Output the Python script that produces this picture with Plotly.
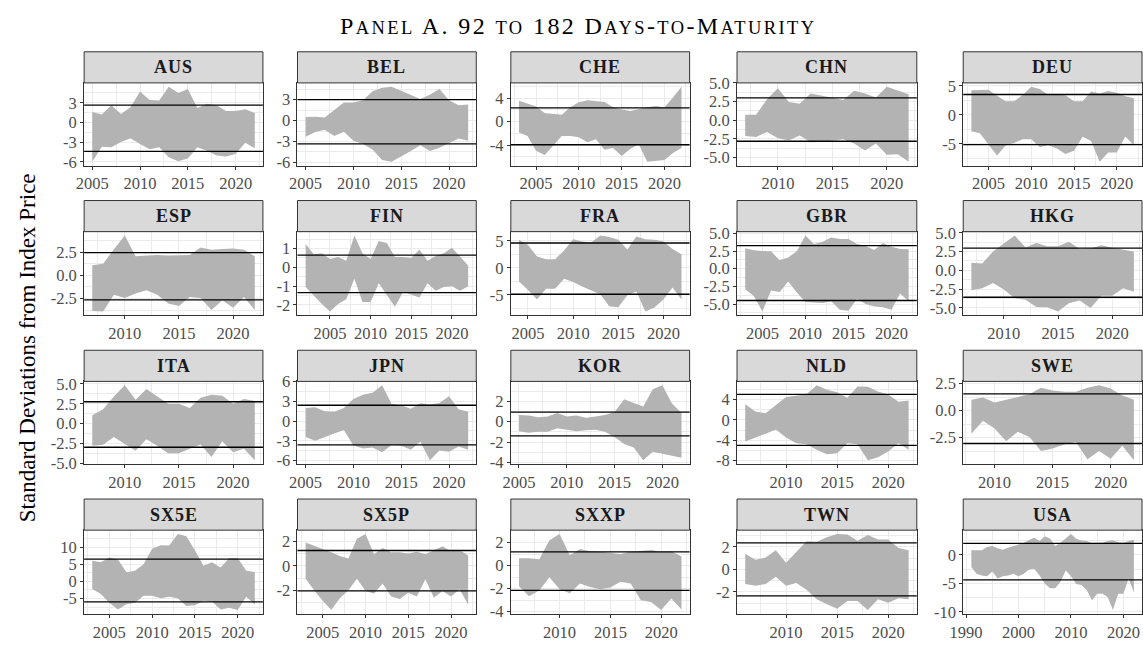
import plotly.graph_objects as go

# ---------------------------------------------------------------------------
# Data: yearly bands (upper / lower, in standard deviations) per index,
# plus the two reference levels drawn as horizontal lines.
# ---------------------------------------------------------------------------
PANELS = ["AUS", "BEL", "CHE", "CHN", "DEU",
          "ESP", "FIN", "FRA", "GBR", "HKG",
          "ITA", "JPN", "KOR", "NLD", "SWE",
          "SX5E", "SX5P", "SXXP", "TWN", "USA"]

AUS_START = 2005
AUS_UPPER = [1.6, 1.2, 2.6, 1.3, 2.3, 4.7, 3.4, 3.35, 5.45, 4.5, 5.1, 2.2, 2.85, 2.6, 1.75, 1.75, 2.0, 1.45]
AUS_LOWER = [-6.0, -3.7, -3.8, -3.0, -2.4, -3.3, -4.1, -3.8, -5.3, -5.9, -5.5, -3.8, -4.3, -5.05, -5.2, -4.8, -3.1, -3.95]
AUS_LEVELS = [2.65, -4.4]

BEL_START = 2005
BEL_UPPER = [0.5, 0.55, 0.45, 1.55, 2.6, 2.6, 2.9, 4.2, 4.7, 4.85, 4.3, 3.7, 3.1, 3.7, 4.5, 2.9, 2.2, 2.3]
BEL_LOWER = [-2.3, -1.65, -1.3, -2.2, -1.6, -2.9, -3.35, -4.15, -5.65, -5.9, -5.1, -4.35, -3.55, -4.35, -3.9, -3.2, -2.55, -2.9]
BEL_LEVELS = [3.0, -3.35]

CHE_START = 2003
CHE_UPPER = [3.55, 3.0, 2.55, 1.45, 1.35, 1.15, 2.45, 3.3, 3.65, 3.5, 3.35, 2.45, 2.05, 1.8, 2.15, 2.45, 2.65, 2.4, 4.1, 5.95]
CHE_LOWER = [-1.85, -2.45, -4.95, -5.7, -4.1, -2.45, -2.45, -2.65, -3.5, -3.0, -4.8, -4.5, -5.85, -4.65, -3.85, -6.85, -6.7, -6.55, -5.35, -4.5]
CHE_LEVELS = [2.35, -3.95]

CHN_START = 2007
CHN_UPPER = [0.75, 0.75, 2.8, 4.3, 2.45, 2.2, 3.6, 3.35, 3.0, 2.7, 3.95, 3.6, 3.05, 4.5, 4.0, 3.5]
CHN_LOWER = [-2.1, -2.25, -1.55, -2.4, -2.7, -2.05, -2.95, -2.9, -2.75, -2.55, -3.1, -4.05, -3.1, -4.6, -4.55, -5.55]
CHN_LEVELS = [3.0, -2.8]

DEU_START = 2003
DEU_UPPER = [4.25, 4.25, 4.3, 3.3, 2.35, 2.35, 3.4, 4.85, 4.45, 3.4, 3.45, 3.35, 2.35, 2.35, 4.0, 3.65, 4.1, 3.8, 3.2, 2.85]
DEU_LOWER = [-2.85, -3.2, -5.1, -7.0, -5.3, -4.85, -4.2, -4.2, -5.55, -5.25, -5.8, -6.75, -6.2, -3.8, -4.5, -8.1, -6.5, -6.5, -3.75, -5.25]
DEU_LEVELS = [3.5, -5.15]

ESP_START = 2007
ESP_UPPER = [1.1, 1.25, 2.8, 4.3, 2.05, 2.1, 2.2, 2.15, 2.2, 2.2, 3.0, 2.75, 2.85, 2.9, 2.75, 2.05]
ESP_LOWER = [-3.85, -3.9, -2.1, -2.45, -1.95, -1.6, -2.1, -3.05, -3.3, -2.35, -2.45, -3.75, -2.7, -3.5, -2.35, -3.75]
ESP_LEVELS = [2.45, -2.65]

FIN_START = 2002
FIN_UPPER = [1.25, 0.7, 0.75, 0.45, 0.55, 0.35, 1.7, 0.75, 0.45, 1.4, 1.3, 0.55, 0.55, 0.5, 0.95, 0.35, 0.6, 0.75, 1.05, 0.55, 0.1]
FIN_LOWER = [-1.05, -1.5, -1.95, -2.35, -1.95, -1.7, -0.6, -1.85, -1.85, -0.85, -1.45, -2.1, -1.3, -1.45, -1.6, -0.85, -1.25, -1.05, -1.0, -1.25, -1.0]
FIN_LEVELS = [0.65, -1.35]

FRA_START = 2004
FRA_UPPER = [5.2, 4.25, 2.1, 1.6, 1.6, 3.2, 5.3, 4.9, 4.7, 6.0, 5.7, 5.2, 3.4, 5.8, 5.3, 5.2, 4.9, 3.5, 2.5]
FRA_LOWER = [-2.55, -4.1, -5.9, -3.9, -3.9, -2.05, -2.65, -3.45, -4.25, -4.9, -7.15, -7.3, -5.1, -4.4, -8.1, -7.35, -5.9, -3.65, -5.9]
FRA_LEVELS = [4.6, -4.9]

GBR_START = 2003
GBR_UPPER = [2.9, 2.6, 2.5, 2.45, 1.2, 1.6, 2.45, 4.7, 3.5, 3.8, 4.4, 4.2, 4.2, 3.5, 3.2, 2.65, 3.65, 3.1, 2.8, 2.75]
GBR_LOWER = [-2.9, -3.85, -6.05, -3.1, -3.3, -1.8, -3.35, -4.7, -4.75, -4.85, -4.6, -5.8, -5.95, -4.3, -5.0, -5.35, -5.45, -5.8, -3.5, -4.6]
GBR_LEVELS = [3.25, -4.5]

HKG_START = 2007
HKG_UPPER = [1.0, 0.9, 2.5, 3.55, 4.65, 3.05, 3.65, 3.2, 3.2, 3.8, 2.85, 2.9, 3.35, 3.0, 2.7, 2.5]
HKG_LOWER = [-2.65, -2.4, -1.7, -2.55, -3.75, -3.95, -4.9, -4.95, -5.5, -4.4, -4.05, -5.05, -3.4, -3.4, -2.4, -2.85]
HKG_LEVELS = [2.95, -3.6]

ITA_START = 2007
ITA_UPPER = [1.05, 1.8, 3.4, 4.85, 3.0, 4.35, 3.4, 2.5, 2.5, 1.95, 3.25, 3.65, 3.5, 2.5, 3.1, 2.85]
ITA_LOWER = [-2.8, -2.7, -1.7, -2.6, -3.45, -2.0, -2.8, -3.75, -3.75, -3.2, -2.65, -4.25, -2.25, -3.65, -3.2, -4.65]
ITA_LEVELS = [2.75, -3.0]

JPN_START = 2005
JPN_UPPER = [2.0, 2.1, 1.5, 1.4, 2.0, 3.35, 4.0, 4.3, 5.45, 2.6, 2.4, 1.85, 2.7, 2.5, 2.75, 3.75, 1.8, 1.4]
JPN_LOWER = [-2.4, -3.0, -2.5, -1.9, -1.35, -3.7, -4.15, -4.0, -4.75, -3.65, -3.75, -4.35, -3.15, -5.95, -4.45, -4.65, -3.85, -4.35]
JPN_LEVELS = [2.4, -3.6]

KOR_START = 2005
KOR_UPPER = [0.65, 0.6, 0.45, 0.5, 0.85, 0.5, 0.6, 0.4, 0.5, 0.65, 0.95, 2.2, 1.85, 1.5, 3.2, 3.6, 1.8, 0.85]
KOR_LOWER = [-0.95, -1.1, -1.0, -1.0, -0.65, -0.8, -0.95, -0.85, -0.8, -1.0, -1.5, -2.2, -2.55, -3.8, -2.95, -3.15, -3.35, -3.55]
KOR_LEVELS = [0.95, -1.4]

NLD_START = 2006
NLD_UPPER = [3.1, 1.65, 1.3, 2.95, 4.5, 4.75, 5.05, 6.85, 5.95, 5.45, 4.35, 6.6, 6.55, 5.6, 5.0, 3.6, 3.85]
NLD_LOWER = [-4.25, -3.45, -2.7, -1.9, -3.45, -4.6, -4.8, -5.9, -6.75, -6.55, -4.6, -4.8, -7.95, -7.35, -6.2, -4.6, -5.9]
NLD_LEVELS = [5.05, -5.0]

SWE_START = 2008
SWE_UPPER = [1.0, 1.2, 0.75, 1.0, 1.25, 1.5, 2.1, 1.85, 1.75, 1.75, 2.1, 2.35, 2.05, 1.4, 1.0]
SWE_LOWER = [-2.15, -0.95, -1.65, -2.85, -1.95, -2.45, -3.75, -3.5, -3.15, -2.9, -4.5, -3.75, -4.45, -3.25, -4.6]
SWE_LEVELS = [1.55, -3.05]

SX5E_START = 2003
SX5E_UPPER = [6.05, 5.6, 7.0, 6.45, 2.7, 3.1, 5.0, 9.6, 10.6, 10.5, 13.9, 13.2, 9.1, 4.6, 5.6, 4.1, 6.8, 6.9, 3.1, 2.8]
SX5E_LOWER = [-2.2, -3.65, -6.25, -8.2, -6.65, -6.25, -4.15, -4.15, -4.9, -4.5, -4.9, -7.2, -7.0, -5.65, -5.85, -8.2, -7.7, -8.35, -4.5, -6.75]
SX5E_LEVELS = [6.55, -5.95]

SX5P_START = 2003
SX5P_UPPER = [1.9, 1.65, 1.4, 1.1, 0.8, 0.6, 2.2, 2.6, 0.95, 1.45, 1.1, 1.1, 1.0, 1.15, 0.95, 1.25, 1.6, 1.2, 1.3, 0.85]
SX5P_LOWER = [-1.05, -2.0, -2.85, -3.6, -2.65, -2.0, -1.05, -2.05, -2.25, -1.45, -2.5, -2.7, -2.2, -2.5, -1.1, -2.6, -2.05, -2.5, -1.9, -3.15]
SX5P_LEVELS = [1.25, -2.05]

SXXP_START = 2006
SXXP_UPPER = [0.65, 0.65, 0.55, 2.2, 2.75, 0.9, 1.45, 1.25, 1.2, 1.1, 1.0, 1.2, 1.25, 1.35, 1.2, 1.25, 0.8]
SXXP_LOWER = [-1.8, -2.65, -2.15, -1.0, -2.05, -2.4, -1.55, -1.85, -2.05, -1.9, -1.4, -1.55, -3.0, -3.15, -3.85, -2.85, -3.8]
SXXP_LEVELS = [1.2, -2.15]

TWN_START = 2006
TWN_UPPER = [1.4, 0.85, 1.05, 1.7, 0.6, 1.55, 2.5, 2.45, 2.85, 3.15, 3.1, 2.55, 3.05, 2.65, 2.65, 1.9, 1.7]
TWN_LOWER = [-1.3, -1.45, -1.3, -0.65, -1.45, -1.2, -1.8, -2.65, -3.1, -3.5, -2.8, -2.8, -3.6, -2.65, -2.95, -2.55, -2.65]
TWN_LEVELS = [2.35, -2.35]

USA_START = 1991
USA_UPPER = [0.8, 0.8, 0.8, 1.35, 1.55, 1.15, 0.9, 1.25, 1.55, 1.8, 2.05, 2.6, 3.0, 2.4, 3.25, 2.85,
             1.55, 2.1, 2.85, 3.65, 2.8, 2.5, 2.4, 2.05, 2.1, 2.1, 2.4, 2.55, 2.2, 2.1, 2.4, 2.65]
USA_LOWER = [-2.15, -3.3, -3.6, -3.75, -2.9, -4.15, -3.75, -3.6, -3.3, -3.75, -3.3, -2.55, -2.45, -3.6, -5.0, -5.85,
             -5.85, -4.7, -2.75, -3.75, -5.1, -5.3, -6.15, -7.95, -6.8, -6.8, -7.4, -9.65, -6.8, -6.8, -4.15, -6.6]
USA_LEVELS = [2.0, -4.4]

# Tick labels per panel
X_TICKS_05 = ["2005", "2010", "2015", "2020"]
X_TICKS_10 = ["2010", "2015", "2020"]
X_TICKS_USA = ["1990", "2000", "2010", "2020"]

Y_TICKS = {
    "AUS": ["-6", "-3", "0", "3"],
    "BEL": ["-6", "-3", "0", "3"],
    "CHE": ["-4", "0", "4"],
    "CHN": ["-5.0", "-2.5", "0.0", "2.5", "5.0"],
    "DEU": ["-5", "0", "5"],
    "ESP": ["-2.5", "0.0", "2.5"],
    "FIN": ["-2", "-1", "0", "1"],
    "FRA": ["-5", "0", "5"],
    "GBR": ["-5.0", "-2.5", "0.0", "2.5", "5.0"],
    "HKG": ["-5.0", "-2.5", "0.0", "2.5", "5.0"],
    "ITA": ["-5.0", "-2.5", "0.0", "2.5", "5.0"],
    "JPN": ["-6", "-3", "0", "3", "6"],
    "KOR": ["-4", "-2", "0", "2", "4"],
    "NLD": ["-8", "-4", "0", "4"],
    "SWE": ["-5.0", "-2.5", "0.0", "2.5"],
    "SX5E": ["-5", "0", "5", "10"],
    "SX5P": ["-4", "-2", "0", "2"],
    "SXXP": ["-4", "-2", "0", "2"],
    "TWN": ["-4", "-2", "0", "2"],
    "USA": ["-10", "-5", "0"],
}
X_TICKS = {
    "AUS": X_TICKS_05, "BEL": X_TICKS_05, "CHE": X_TICKS_05, "CHN": X_TICKS_10, "DEU": X_TICKS_05,
    "ESP": X_TICKS_10, "FIN": X_TICKS_05, "FRA": X_TICKS_05, "GBR": X_TICKS_05, "HKG": X_TICKS_10,
    "ITA": X_TICKS_10, "JPN": X_TICKS_05, "KOR": X_TICKS_05, "NLD": X_TICKS_10, "SWE": X_TICKS_10,
    "SX5E": X_TICKS_05, "SX5P": X_TICKS_05, "SXXP": X_TICKS_10, "TWN": X_TICKS_10, "USA": X_TICKS_USA,
}

TITLE_PARTS = [("P", True), ("ANEL", False), (" A. 92 ", True), ("TO", False), (" 182 D", True),
               ("AYS", False), ("-", True), ("TO", False), ("-M", True), ("ATURITY", False)]
Y_TITLE = "Standard Deviations from Index Price"

# ---------------------------------------------------------------------------
# Layout geometry (pixels in a 1143 x 650 page)
# ---------------------------------------------------------------------------
W, H = 1143, 650
COL_X = [(71, 252), (287, 468), (503, 684), (732, 914), (961, 1142)]
ROW_Y = [(76, 161), (229, 315), (383, 468), (536, 622)]
STRIP_H = 32

FONT = "Liberation Serif"
TICK_FONT = dict(family=FONT, size=16.5, color="#4D4D4D")
GRID = "#EBEBEB"
RIBBON = "#B3B3B3"
BORDER = "#333333"
STRIP_FILL = "#D9D9D9"

series = globals()


def expand(lo, hi, frac=0.05):
    pad = (hi - lo) * frac
    return [lo - pad, hi + pad]


def minor_vals(vals):
    step = vals[1] - vals[0]
    out = [vals[0] - step / 2]
    out += [v + step / 2 for v in vals]
    return out


fig = go.Figure()
layout = dict(
    width=W, height=H,
    margin=dict(l=0, r=0, t=0, b=0),
    paper_bgcolor="white", plot_bgcolor="white",
    showlegend=False,
)
shapes, annotations = [], []

for i, name in enumerate(PANELS):
    r, c = divmod(i, 5)
    n = i + 1
    xa = "x" if n == 1 else f"x{n}"
    ya = "y" if n == 1 else f"y{n}"
    start = series[f"{name}_START"]
    upper = series[f"{name}_UPPER"]
    lower = series[f"{name}_LOWER"]
    levels = series[f"{name}_LEVELS"]
    years = list(range(start, start + len(upper)))

    # ribbon between lower and upper bounds
    fig.add_trace(go.Scatter(
        x=years + years[::-1], y=upper + lower[::-1],
        fill="toself", fillcolor=RIBBON, mode="lines",
        line=dict(width=0, color=RIBBON), hoverinfo="skip",
        xaxis=xa, yaxis=ya,
    ))

    # reference levels
    for lv in levels:
        shapes.append(dict(type="line", xref=f"{xa} domain", yref=ya,
                           x0=0, x1=1, y0=lv, y1=lv,
                           line=dict(color="black", width=1.3), layer="above"))

    x0, x1 = COL_X[c]
    y0, y1 = ROW_Y[r]
    xt = X_TICKS[name]
    yt = Y_TICKS[name]
    xv = [float(t) for t in xt]
    yv = [float(t) for t in yt]

    common = dict(
        showline=True, mirror=True, linecolor=BORDER, linewidth=1,
        ticks="outside", ticklen=3, tickwidth=1, tickcolor=BORDER,
        tickfont=TICK_FONT, showgrid=True, gridcolor=GRID, gridwidth=1.1,
        zeroline=False, fixedrange=True,
    )
    layout[f"xaxis{n}"] = dict(
        common, domain=[x0 / W, x1 / W], anchor=ya,
        range=expand(years[0], years[-1]),
        tickmode="array", tickvals=xv, ticktext=xt,
        minor=dict(tickmode="array", tickvals=minor_vals(xv), showgrid=True,
                   gridcolor=GRID, gridwidth=0.55, ticks=""),
    )
    layout[f"yaxis{n}"] = dict(
        common, domain=[1 - y1 / H, 1 - y0 / H], anchor=xa,
        range=expand(min(lower + levels), max(upper + levels)),
        tickmode="array", tickvals=yv, ticktext=yt,
        minor=dict(tickmode="array", tickvals=minor_vals(yv), showgrid=True,
                   gridcolor=GRID, gridwidth=0.55, ticks=""),
    )

    # facet strip
    sy1 = y0
    sy0 = y0 - STRIP_H
    shapes.append(dict(type="rect", xref="paper", yref="paper",
                       x0=x0 / W, x1=x1 / W, y0=1 - sy1 / H, y1=1 - sy0 / H,
                       fillcolor=STRIP_FILL, line=dict(color=BORDER, width=1), layer="above"))
    annotations.append(dict(text=f"<b><span style='letter-spacing:1px'>{name}</span></b>",
                            xref="paper", yref="paper",
                            x=(x0 + x1) / 2 / W, y=1 - (sy0 + sy1) / 2 / H,
                            xanchor="center", yanchor="middle", showarrow=False,
                            font=dict(family=FONT, size=18, color="#1A1A1A")))

# title in small capitals
title_html = "".join(
    f"<span style='letter-spacing:2.4px'>{txt}</span>" if big
    else f"<span style='font-size:18.5px;letter-spacing:2.4px'>{txt}</span>"
    for txt, big in TITLE_PARTS
)
annotations.append(dict(text=title_html, xref="paper", yref="paper",
                        x=0.5, y=1 - 17 / H, xanchor="center", yanchor="middle",
                        showarrow=False, font=dict(family=FONT, size=24, color="black")))

# shared y-axis title
annotations.append(dict(text=Y_TITLE, xref="paper", yref="paper",
                        x=14 / W, y=1 - 348 / H, xanchor="center", yanchor="middle",
                        textangle=-90, showarrow=False,
                        font=dict(family=FONT, size=23, color="black")))

layout["shapes"] = shapes
layout["annotations"] = annotations
fig.update_layout(**layout)
fig.write_html("out.html")
